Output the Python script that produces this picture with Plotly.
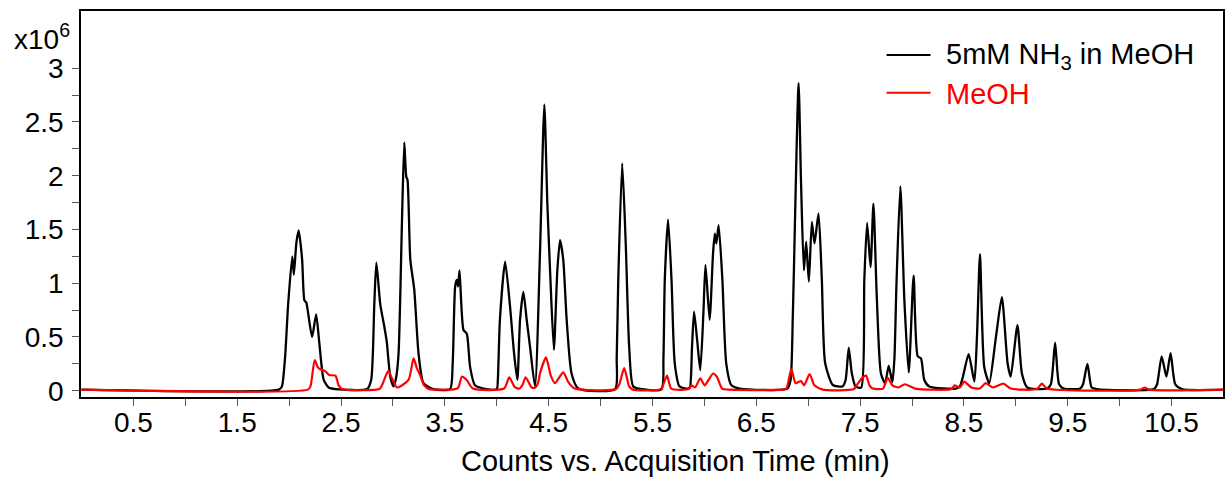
import plotly.graph_objects as go

# ---- data ----
# 5mM NH3 in MeOH (black)
t_nh3 = [0.00, 1.90, 1.93, 1.96, 1.99, 2.03, 2.045, 2.07, 2.092, 2.125, 2.147, 2.165, 2.18, 2.221, 2.26, 2.29, 2.333, 2.38, 2.45,
         2.75, 2.79, 2.82, 2.84, 2.878, 2.916, 2.94, 2.974, 3.006, 3.03, 3.054, 3.087, 3.109, 3.128, 3.14, 3.167, 3.205, 3.246, 3.294, 3.39,
         3.55, 3.575, 3.599, 3.615, 3.628, 3.641, 3.679, 3.711, 3.743, 3.79, 3.90,
         4.00, 4.01, 4.03, 4.08, 4.128, 4.166, 4.198, 4.224, 4.256, 4.288, 4.32, 4.368, 4.416, 4.458, 4.487, 4.513, 4.55, 4.583, 4.609, 4.64, 4.673, 4.72, 4.785,
         5.14, 5.155, 5.17, 5.208, 5.243, 5.275, 5.314, 5.40,
         5.587, 5.605, 5.618, 5.65, 5.683, 5.714, 5.76, 5.84,
         5.86, 5.88, 5.90, 5.93, 5.96, 5.99, 6.01, 6.05, 6.083, 6.10, 6.115, 6.137, 6.173, 6.21, 6.26, 6.34,
         6.80, 6.83, 6.852, 6.907, 6.93, 6.958, 6.98, 7.006, 7.035, 7.06, 7.099, 7.131, 7.163, 7.237, 7.33,
         7.36, 7.39, 7.42, 7.455,
         7.51, 7.54, 7.567, 7.60, 7.628, 7.66, 7.70, 7.74, 7.775, 7.81,
         7.83, 7.85, 7.887, 7.926, 7.968, 8.015, 8.054, 8.086, 8.118, 8.166, 8.42,
         8.46, 8.49, 8.545, 8.60, 8.625, 8.654, 8.695, 8.743, 8.808, 8.865, 8.92, 8.95, 9.015, 9.058, 9.11,
         9.30, 9.337, 9.378, 9.416, 9.46,
         9.62, 9.647, 9.689, 9.73, 9.78,
         10.33, 10.36, 10.404, 10.45, 10.49, 10.535, 10.60, 11.00]
i_nh3 = [0.01, 0.01, 0.04, 0.30, 0.80, 1.25, 1.08, 1.38, 1.49, 1.22, 0.84, 0.82, 0.74, 0.50, 0.71, 0.45, 0.10, 0.03, 0.015,
         0.015, 0.10, 0.80, 1.19, 0.80, 0.60, 0.456, 0.13, 0.04, 0.12, 0.35, 1.59, 2.31, 1.99, 1.96, 1.22, 0.94, 0.35, 0.07, 0.015,
         0.015, 0.25, 0.97, 1.03, 0.97, 1.12, 0.565, 0.53, 0.22, 0.05, 0.015,
         0.015, 0.10, 0.66, 1.20, 0.78, 0.35, 0.10, 0.66, 0.92, 0.66, 0.41, 0.04, 1.28, 2.66, 1.74, 1.12, 0.38, 1.12, 1.40, 1.22, 0.66, 0.16, 0.02,
         0.015, 0.30, 1.03, 2.115, 1.34, 0.41, 0.04, 0.015,
         0.015, 0.30, 1.03, 1.59, 1.03, 0.255, 0.04, 0.02,
         0.03, 0.40, 0.735, 0.47, 0.19, 0.72, 1.17, 0.66, 1.28, 1.46, 1.37, 1.54, 1.03, 0.255, 0.05, 0.02,
         0.02, 0.10, 0.72, 2.86, 1.96, 1.12, 1.386, 1.014, 1.57, 1.37, 1.65, 1.03, 0.255, 0.053, 0.04,
         0.10, 0.40, 0.16, 0.04,
         0.03, 1.03, 1.56, 1.15, 1.74, 0.875, 0.16, 0.07, 0.23, 0.08,
         0.30, 1.00, 1.90, 0.84, 0.17, 1.07, 0.32, 0.30, 0.10, 0.04, 0.02,
         0.04, 0.13, 0.34, 0.085, 0.50, 1.27, 0.22, 0.07, 0.50, 0.87, 0.255, 0.13, 0.61, 0.16, 0.03,
         0.02, 0.06, 0.447, 0.06, 0.02,
         0.02, 0.06, 0.25, 0.03, 0.015,
         0.015, 0.06, 0.32, 0.13, 0.35, 0.06, 0.015, 0.01]

# MeOH (red)
t_meoh = [0.00, 2.18, 2.205, 2.246, 2.275, 2.30, 2.35, 2.385, 2.446, 2.477, 2.51,
          2.87, 2.894, 2.956, 2.99, 3.04, 3.15, 3.198, 3.23, 3.263, 3.30, 3.35,
          3.60, 3.63, 3.664, 3.71, 3.77,
          4.07, 4.12, 4.176, 4.22, 4.25, 4.278, 4.336, 4.37, 4.40, 4.416, 4.474, 4.52, 4.56, 4.64, 4.689, 4.75,
          5.15, 5.18, 5.227, 5.275, 5.31,
          5.58, 5.60, 5.64, 5.68,
          5.85, 5.875, 5.91, 5.96, 6.003, 6.04, 6.083, 6.12, 6.17, 6.25,
          6.76, 6.79, 6.837, 6.878, 6.93, 6.96, 7.013, 7.06, 7.14,
          7.44, 7.477, 7.52, 7.557, 7.59, 7.62,
          7.72, 7.766, 7.81, 7.87, 7.93, 8.03,
          8.38, 8.41, 8.46, 8.503, 8.57, 8.65, 8.71, 8.78, 8.88, 8.95, 9.20, 9.25, 9.30,
          10.20, 10.24, 10.28, 11.00]
i_meoh = [0.01, 0.01, 0.04, 0.285, 0.22, 0.20, 0.18, 0.146, 0.14, 0.05, 0.015,
          0.015, 0.05, 0.186, 0.115, 0.03, 0.10, 0.30, 0.21, 0.14, 0.05, 0.015,
          0.015, 0.03, 0.13, 0.10, 0.02,
          0.02, 0.125, 0.03, 0.02, 0.06, 0.125, 0.03, 0.03, 0.08, 0.16, 0.31, 0.14, 0.07, 0.17, 0.08, 0.02,
          0.015, 0.06, 0.21, 0.04, 0.01,
          0.015, 0.05, 0.14, 0.02,
          0.015, 0.05, 0.03, 0.115, 0.05, 0.10, 0.16, 0.13, 0.02, 0.01,
          0.01, 0.02, 0.20, 0.07, 0.09, 0.05, 0.155, 0.05, 0.01,
          0.015, 0.065, 0.12, 0.14, 0.05, 0.02,
          0.02, 0.12, 0.05, 0.03, 0.06, 0.02,
          0.015, 0.05, 0.03, 0.085, 0.03, 0.02, 0.07, 0.03, 0.065, 0.02, 0.015, 0.065, 0.02,
          0.01, 0.03, 0.01, 0.01]

series_names = ["5mM NH<sub>3</sub> in MeOH", "MeOH"]
series_colors = ["#000000", "#ff0000"]

x_labelvals = [0.5 + k for k in range(0, 11)]          # labelled ticks 0.5 ... 10.5
x_tickmarks = [0.5 * k for k in range(1, 22)]          # all tick marks every 0.5
y_labelvals = [0.5 * k for k in range(0, 7)]           # labelled ticks 0 ... 3
y_tickmarks = [0.25 * k for k in range(0, 13)]         # all tick marks every 0.25

FONT = "Liberation Sans, Arial, Helvetica, sans-serif"
FS_TICK = 28
FS_TEXT = 29

fig = go.Figure()
fig.add_trace(go.Scatter(x=t_nh3, y=i_nh3, mode="lines", name=series_names[0],
                         line=dict(color=series_colors[0], width=2.3, shape="spline", smoothing=0.6),
                         showlegend=False))
fig.add_trace(go.Scatter(x=t_meoh, y=i_meoh, mode="lines", name=series_names[1],
                         line=dict(color=series_colors[1], width=2.2, shape="spline", smoothing=0.6),
                         showlegend=False))

L, R, T, B = 81, 2, 11, 80
W, H = 1227, 477
pw, ph = W - L - R, H - T - B


def px(xp):
    return (xp - L) / pw


def py(yp):
    return (H - B - yp) / ph


fig.update_layout(
    width=W, height=H,
    margin=dict(l=L, r=R, t=T, b=B),
    paper_bgcolor="white", plot_bgcolor="white",
    font=dict(family=FONT, size=FS_TICK, color="black"),
    showlegend=False,
)
fig.update_xaxes(range=[-0.005, 10.995], tickmode="array", tickvals=x_labelvals,
                 ticks="", ticklabelstandoff=0,
                 minor=dict(tickmode="array", tickvals=x_tickmarks, ticks="outside", ticklen=7,
                            tickwidth=1, tickcolor="#555555", showgrid=False),
                 showline=True, linecolor="black", linewidth=1.5, mirror=True,
                 showgrid=False, zeroline=False, tickfont=dict(size=FS_TICK))
fig.update_yaxes(range=[-0.0586, 3.532], tickmode="array", tickvals=y_labelvals,
                 ticks="", ticklabelstandoff=10,
                 minor=dict(tickmode="array", tickvals=y_tickmarks, ticks="outside", ticklen=7,
                            tickwidth=1, tickcolor="#555555", showgrid=False),
                 showline=True, linecolor="black", linewidth=1.5, mirror=True,
                 showgrid=False, zeroline=False, tickfont=dict(size=FS_TICK))

# axis title and multiplier
fig.add_annotation(text="Counts vs. Acquisition Time (min)", xref="paper", yref="paper",
                   x=px(676.7), y=py(461), xanchor="center", yanchor="middle", showarrow=False,
                   font=dict(size=FS_TEXT))
fig.add_annotation(text="x10<sup>6</sup>", xref="paper", yref="paper",
                   x=px(72), y=py(37), xanchor="right", yanchor="middle", showarrow=False,
                   font=dict(size=FS_TICK))

# legend (sample lines + labels)
legend_y = [55, 92.7]
for name, color, yy in zip(series_names, series_colors, legend_y):
    fig.add_shape(type="line", xref="paper", yref="paper", x0=px(888), x1=px(932), y0=py(yy), y1=py(yy),
                  line=dict(color=color, width=2))
    fig.add_annotation(text=name, xref="paper", yref="paper", x=px(946), y=py(yy + 1.5),
                       xanchor="left", yanchor="middle", showarrow=False,
                       font=dict(size=FS_TEXT, color=color))

fig.write_html("out.html")
